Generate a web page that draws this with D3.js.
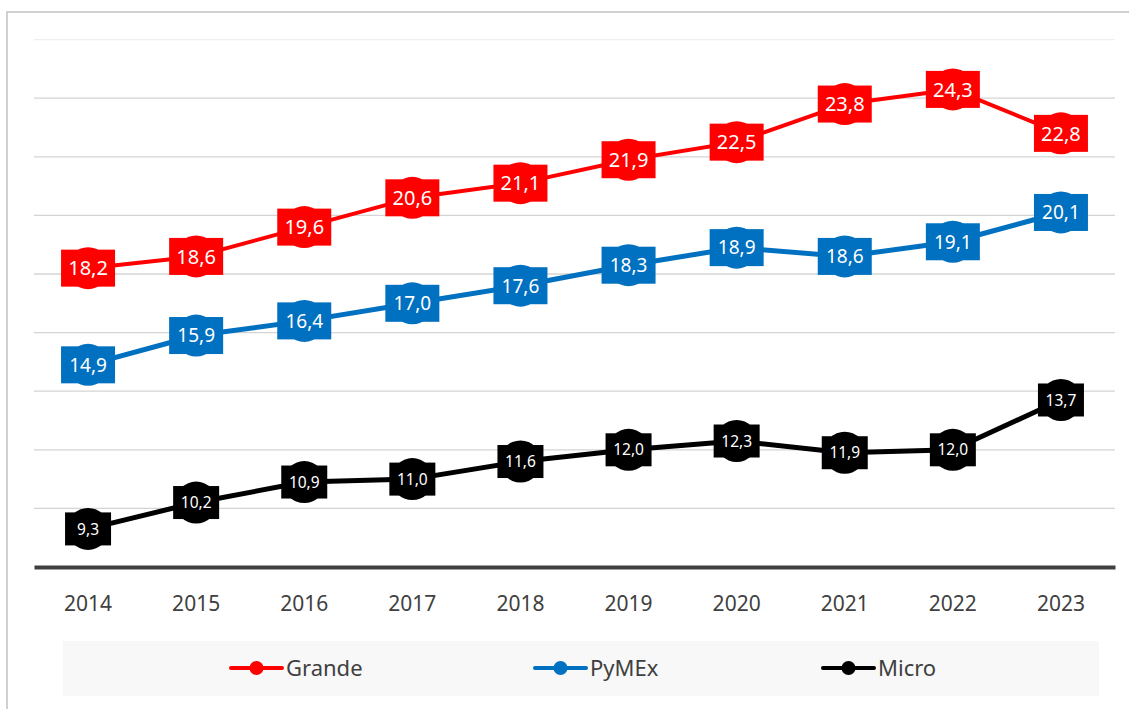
<!DOCTYPE html>
<html>
<head>
<meta charset="utf-8">
<script src="https://cdn.jsdelivr.net/npm/d3@7"></script>
<style>
  body { margin: 0; background: #fff; }
  svg { display: block; }
</style>
</head>
<body>
<div id="chart"></div>
<script>
// Chart data
var years = ["2014", "2015", "2016", "2017", "2018", "2019", "2020", "2021", "2022", "2023"];
var grande = [18.2, 18.6, 19.6, 20.6, 21.1, 21.9, 22.5, 23.8, 24.3, 22.8];
var pymex = [14.9, 15.9, 16.4, 17.0, 17.6, 18.3, 18.9, 18.6, 19.1, 20.1];
var micro = [9.3, 10.2, 10.9, 11.0, 11.6, 12.0, 12.3, 11.9, 12.0, 13.7];
var yTicks = [8, 10, 12, 14, 16, 18, 20, 22, 24, 26];

var series = [
    { name: "Grande", values: grande, color: "#ff0000", width: 4, box: [54, 37], font: 20 },
    { name: "PyMEx", values: pymex, color: "#0070c0", width: 5, box: [54, 37], font: 19 },
    { name: "Micro", values: micro, color: "#000000", width: 5, box: [46, 33], font: 15.5 }
];

var W = 1129, H = 709;
var svg = d3.select("#chart").append("svg")
    .attr("width", W)
    .attr("height", H);

// outer frame
svg.append("rect")
    .attr("x", 7).attr("y", 12)
    .attr("width", W + 10).attr("height", H + 10)
    .attr("fill", "#fff")
    .attr("stroke", "#d0d0d0")
    .attr("stroke-width", 2);

var x = d3.scaleBand().domain(years).range([34, 1115]);
var y = d3.scaleLinear().domain([8, 26]).range([567, 39.6]);

// gridlines
svg.append("g").selectAll("line")
    .data(yTicks.slice(1))
    .enter().append("line")
    .attr("x1", 34).attr("x2", 1115)
    .attr("y1", function(d) { return y(d); })
    .attr("y2", function(d) { return y(d); })
    .attr("stroke", function(d) { return d === 26 ? "#efefef" : "#d4d4d4"; })
    .attr("stroke-width", 1.3);

// x axis
var xAxis = svg.append("g")
    .attr("transform", "translate(0," + y(8) + ")")
    .call(d3.axisBottom(x).tickSize(0).tickPadding(29));
xAxis.select(".domain")
    .attr("stroke", "#404040")
    .attr("stroke-width", 4);
xAxis.selectAll("text")
    .attr("fill", "#404040")
    .style("font-family", "'Noto Sans', sans-serif")
    .style("font-size", "21px");

var line = d3.line()
    .x(function(d, i) { return x(years[i]) + x.bandwidth() / 2; })
    .y(function(d) { return y(d); });

series.forEach(function(s) {
    var g = svg.append("g");
    g.append("path")
        .datum(s.values)
        .attr("d", line)
        .attr("fill", "none")
        .attr("stroke", s.color)
        .attr("stroke-width", s.width)
        .attr("stroke-linejoin", "round");

    var pts = g.selectAll(".pt")
        .data(s.values)
        .enter().append("g")
        .attr("transform", function(d, i) {
            return "translate(" + (x(years[i]) + x.bandwidth() / 2) + "," + y(d) + ")";
        });
    pts.append("circle")
        .attr("r", 21)
        .attr("fill", s.color);
    pts.append("rect")
        .attr("x", -s.box[0] / 2).attr("y", -s.box[1] / 2)
        .attr("width", s.box[0]).attr("height", s.box[1])
        .attr("fill", s.color);
    pts.append("text")
        .attr("text-anchor", "middle")
        .attr("dy", "0.36em")
        .attr("fill", "#fff")
        .style("font-family", "'Noto Sans', sans-serif")
        .style("font-size", s.font + "px")
        .text(function(d) { return d.toFixed(1).replace(".", ","); });
});

// legend
svg.append("rect")
    .attr("x", 63).attr("y", 641)
    .attr("width", 1036).attr("height", 55)
    .attr("fill", "#f8f8f8");

var legendX = [231, 535, 823];
series.forEach(function(s, i) {
    var lg = svg.append("g").attr("transform", "translate(" + legendX[i] + ",668)");
    lg.append("line")
        .attr("x1", 0).attr("x2", 51)
        .attr("stroke", s.color)
        .attr("stroke-width", 4)
        .attr("stroke-linecap", "round");
    lg.append("circle")
        .attr("cx", 25.5).attr("r", 7)
        .attr("fill", s.color);
    lg.append("text")
        .attr("x", 55)
        .attr("dy", "0.36em")
        .attr("fill", "#404040")
        .style("font-family", "'Noto Sans', sans-serif")
        .style("font-size", "22px")
        .text(s.name);
});
</script>
</body>
</html>
